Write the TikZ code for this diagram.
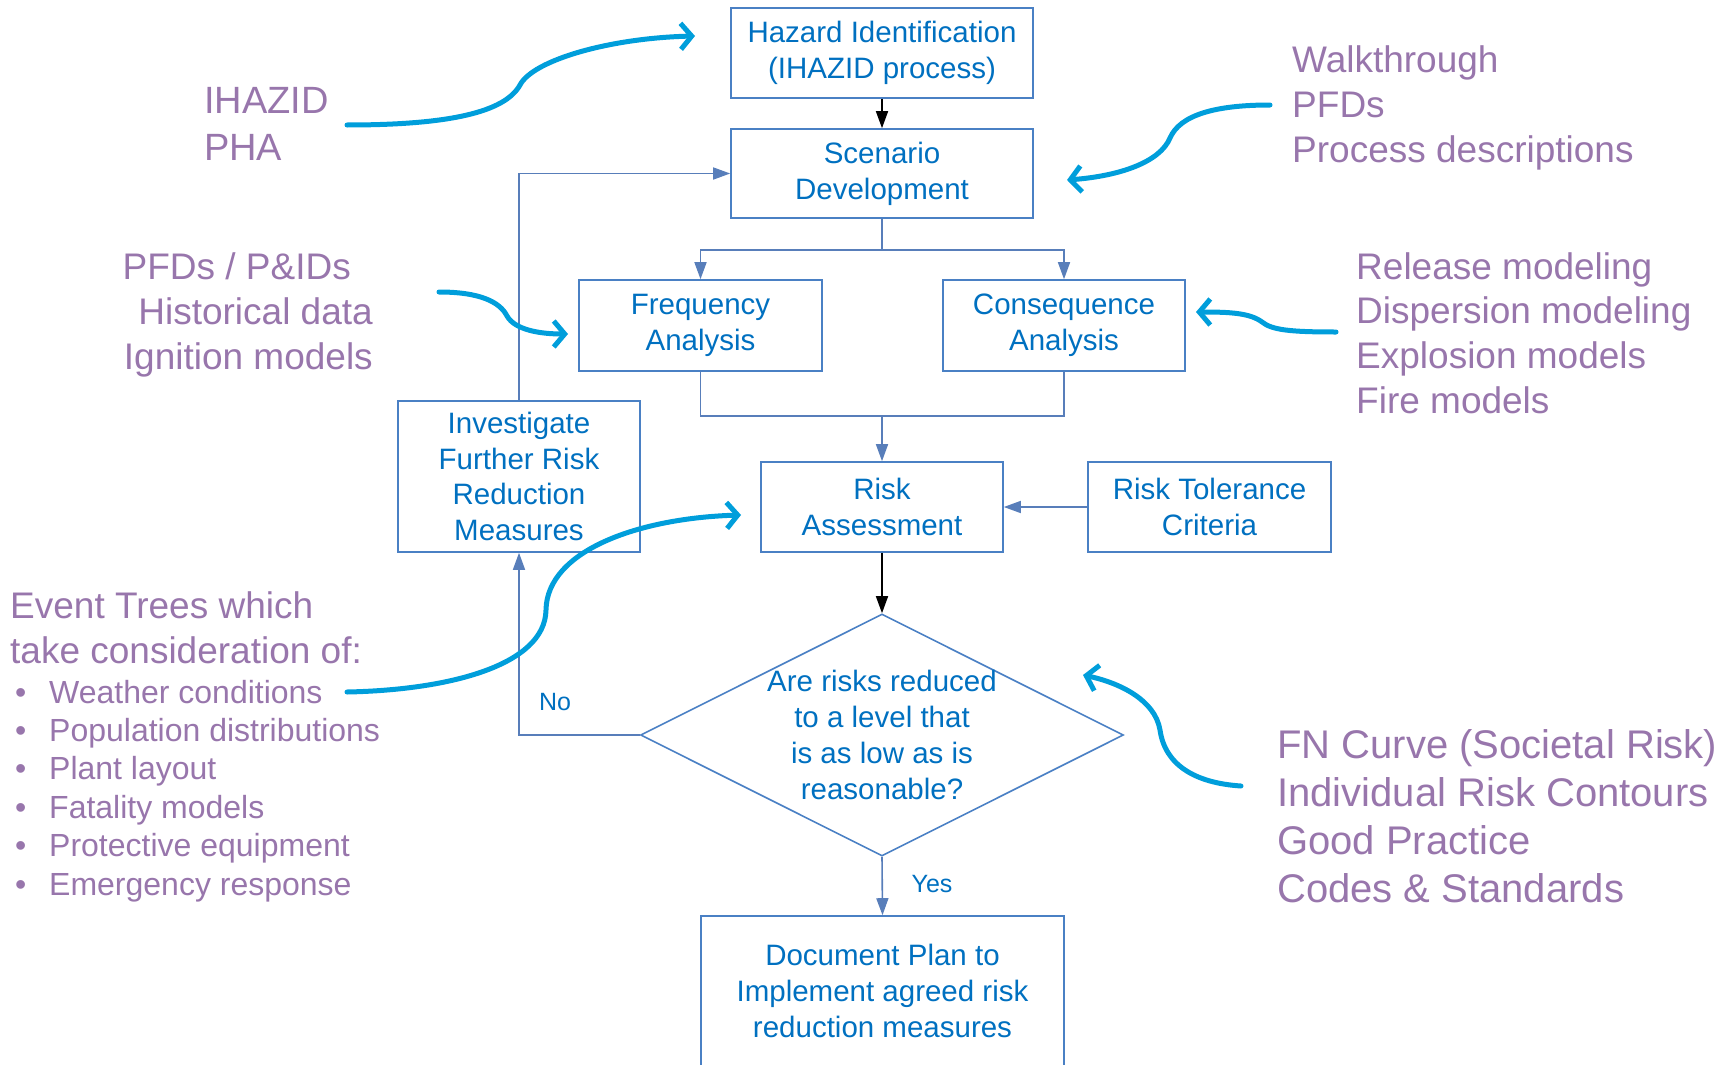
\documentclass[tikz,border=0pt]{standalone}
\usepackage{fontspec}
\setmainfont{Liberation Sans}
\usetikzlibrary{shapes.geometric,arrows.meta}

\definecolor{boxblue}{RGB}{74,128,196}
\definecolor{textblue}{RGB}{0,112,192}
\definecolor{lineblue}{RGB}{88,126,186}
\definecolor{hintcyan}{RGB}{0,158,219}
\definecolor{notepurple}{RGB}{152,118,172}

\begin{document}
\begin{tikzpicture}[x=1pt,y=-1pt,
  box/.style={draw=boxblue, line width=1.6pt, text=textblue, align=center, inner sep=0pt,
    font=\fontsize{29.5}{35.8}\selectfont},
  boxtext/.style={text=textblue, align=center, inner sep=0pt, font=\fontsize{29.5}{35.8}\selectfont},
  decision/.style={draw=boxblue, line width=1.6pt, diamond, inner sep=0pt, aspect=2,
    minimum width=483pt, minimum height=242pt},
  flow/.style={draw=lineblue, line width=1.6pt, -{Triangle[length=17pt,width=12pt]}},
  darkflow/.style={flow, draw=black},
  joint/.style={draw=lineblue, line width=1.6pt},
  tag/.style={text=textblue, inner sep=0pt, font=\fontsize{25}{30}\selectfont},
  hint/.style={draw=hintcyan, line width=5pt, line cap=round, line join=round,
    -{Straight Barb[length=11pt,width=26pt]}},
  note/.style={text=notepurple, align=left, inner sep=0pt, font=\fontsize{37}{44.7}\selectfont},
  bignote/.style={note, font=\fontsize{40}{48.2}\selectfont},
  smallnote/.style={note, font=\fontsize{32}{38.4}\selectfont}]

\useasboundingbox (0,0) rectangle (1729,1065);
\clip (0,0) rectangle (1729,1065);

% process boxes
\node[box, minimum width=302pt, minimum height=90pt] (hazid) at (882,53) {Hazard Identification\\(IHAZID process)};
\node[box, minimum width=302pt, minimum height=89pt] (scen) at (882,173.5) {Scenario\\Development};
\node[box, minimum width=243pt, minimum height=91pt] (freq) at (700.5,325.5) {Frequency\\Analysis};
\node[box, minimum width=242pt, minimum height=91pt] (cons) at (1064,325.5) {Consequence\\Analysis};
\node[box, minimum width=242pt, minimum height=90pt] (risk) at (882,507) {Risk\\Assessment};
\node[box, minimum width=243pt, minimum height=90pt] (toler) at (1209.5,507) {Risk Tolerance\\Criteria};
\node[box, minimum width=242pt, minimum height=151pt] (invest) at (519,476.5) {Investigate\\Further Risk\\Reduction\\Measures};
\node[decision] (ask) at (882,735) {};
\node[boxtext] (asktext) at (ask.center) {Are risks reduced\\to a level that\\is as low as is\\reasonable?};
\node[box, minimum width=363pt, minimum height=150pt] (doc) at (882.5,991) {Document Plan to\\Implement agreed risk\\reduction measures};

% flow between the boxes
\coordinate (split) at (882,250);
\coordinate (merge) at (882,416);
\draw[darkflow] (hazid.south) -- (scen.north);
\draw[joint] (scen.south) -- (split);
\draw[flow] (split) -| (freq.north);
\draw[flow] (split) -| (cons.north);
\draw[joint] (freq.south) |- (merge) -| (cons.south);
\draw[flow] (merge) -- (risk.north);
\draw[flow] (toler.west) -- (risk.east);
\draw[darkflow] (risk.south) -- (ask.north);
\draw[flow] (ask.west) -| (invest.south);
\draw[flow] (invest.north) |- (scen.west);
\draw[flow] (ask.south) -- (doc.north);
\node[tag] (no) at (555,702) {No};
\node[tag] (yes) at (932,884) {Yes};

% inputs around the flow
\node[note, anchor=west, font=\fontsize{38}{47.5}\selectfont] (ihazid) at (204,124) {IHAZID\\PHA};
\node[note, anchor=west] (walk) at (1292,108) {Walkthrough\\PFDs\\Process descriptions};
\node[note, anchor=east, align=right] (pfds) at (373,315) {PFDs / P\&IDs\hspace*{22pt}\\Historical data\\Ignition models};
\node[note, anchor=west] (release) at (1356,333) {Release modeling\\Dispersion modeling\\Explosion models\\Fire models};
\node[note, anchor=west] (event) at (10,628) {Event Trees which\\take consideration of:};
\foreach \txt [count=\i from 0] in {Weather conditions,Population distributions,Plant layout,
    Fatality models,Protective equipment,Emergency response}{
  \node[smallnote, anchor=base west] (dot\i) at (15,{703+38.4*\i}) {•};
  \node[smallnote, anchor=base west] (item\i) at (49,{703+38.4*\i}) {\txt};
}
\node[bignote, anchor=west] (fn) at (1277,816) {FN Curve (Societal Risk)\\Individual Risk Contours\\Good Practice\\Codes \& Standards};

% curved pointers
\coordinate (ihazidA) at (347,125);  \coordinate (ihazidB) at (695,36);
\coordinate (walkA) at (1270,105);   \coordinate (walkB) at (1067,180);
\coordinate (pfdsA) at (439,292);    \coordinate (pfdsB) at (568,334);
\coordinate (releaseA) at (1336,332); \coordinate (releaseB) at (1196,312);
\coordinate (eventA) at (347,692);   \coordinate (eventB) at (741,515);
\coordinate (fnA) at (1241,786);     \coordinate (fnB) at (1083,675);
\draw[hint] (ihazidA) .. controls (450,125) and (505,112) .. (520,85) .. controls (533,60) and (610,38) .. (ihazidB);
\draw[hint] (walkA) .. controls (1215,105) and (1180,115) .. (1170,138) .. controls (1160,162) and (1120,176) .. (walkB);
\draw[hint] (pfdsA) .. controls (480,292) and (500,302) .. (507,316) .. controls (515,330) and (540,334) .. (pfdsB);
\draw[hint] (releaseA) .. controls (1290,332) and (1272,330) .. (1262,322) .. controls (1250,313) and (1230,312) .. (releaseB);
\draw[hint] (eventA) .. controls (450,690) and (545,665) .. (546,610) .. controls (547,550) and (640,518) .. (eventB);
\draw[hint] (fnA) .. controls (1195,783) and (1165,765) .. (1160,730) .. controls (1155,700) and (1120,683) .. (fnB);

\end{tikzpicture}
\end{document}
